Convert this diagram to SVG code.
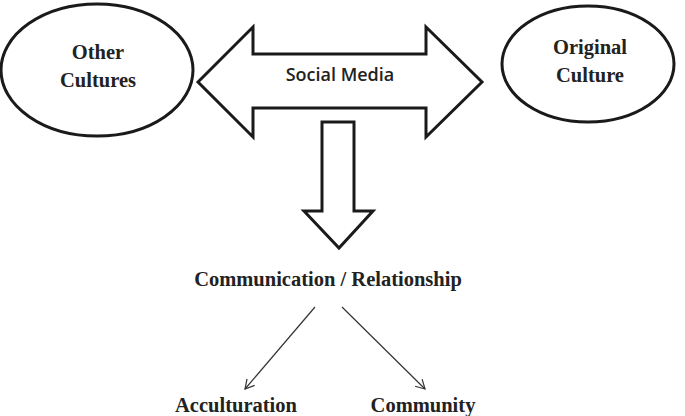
<svg xmlns="http://www.w3.org/2000/svg" width="685" height="416" viewBox="0 0 685 416">
<style>
.sh{fill:#fff;stroke:#1a1a1a;stroke-width:3}
.t{font-family:"Liberation Serif",serif;font-weight:bold;font-size:20.5px;fill:#222;text-anchor:middle}
.s{font-family:"Open Sans","DejaVu Sans",sans-serif;font-weight:600;font-size:18px;fill:#222;text-anchor:middle}
.c{stroke:#333;stroke-width:1.2;fill:none}
</style>
<defs><marker id="a" markerWidth="12" markerHeight="12" refX="10" refY="6" orient="auto" markerUnits="userSpaceOnUse"><path d="M1,1 L10,6 L1,11" fill="none" stroke="#333" stroke-width="1.2"/></marker></defs>
<g id="other"><ellipse class="sh" cx="97" cy="70" rx="96" ry="66"/><text class="t" x="98" y="59">Other</text><text class="t" x="98" y="87">Cultures</text></g>
<g id="original"><ellipse class="sh" cx="588" cy="64" rx="86" ry="58"/><text class="t" x="590" y="54">Original</text><text class="t" x="590" y="82">Culture</text></g>
<g id="social"><path class="sh" d="M198,82 L253,27 L253,54 L426,54 L426,27 L482,82 L426,137 L426,108 L253,108 L253,137 Z"/><text class="s" x="340" y="81">Social Media</text></g>
<g id="down"><path class="sh" d="M322,122 L354,122 L354,211 L373,211 L339,248 L304,211 L322,211 Z"/></g>
<g id="comm"><text class="t" x="328" y="286">Communication / Relationship</text></g>
<g id="accult"><text class="t" x="236" y="412">Acculturation</text></g>
<g id="community"><text class="t" x="423" y="412">Community</text></g>
<g id="connectors"><line class="c" x1="315" y1="307" x2="245" y2="389" marker-end="url(#a)"/><line class="c" x1="342" y1="307" x2="425" y2="389" marker-end="url(#a)"/></g>
</svg>
